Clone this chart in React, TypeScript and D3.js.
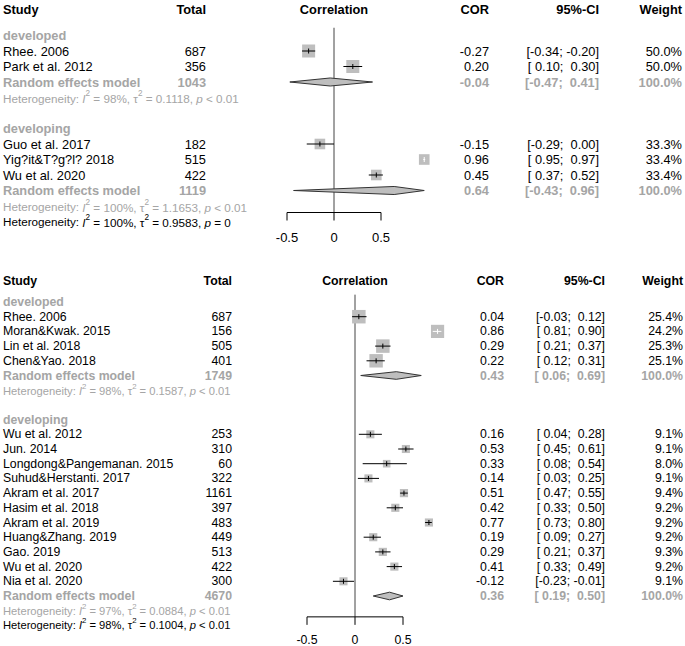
import React from 'react';
import * as d3 from 'd3';

const subgroups = ['developed', 'developing'];

// upper forest plot
const topStudies = ['Rhee. 2006', 'Park et al. 2012', 'Guo et al. 2017', 'Yig?it&T?g?l? 2018', 'Wu et al. 2020'];
const topGroups = ['developed', 'developed', 'developing', 'developing', 'developing'];
const topTotals = [687, 356, 182, 515, 422];
const topCor = [-0.27, 0.2, -0.15, 0.96, 0.45];
const topLower = [-0.34, 0.1, -0.29, 0.95, 0.37];
const topUpper = [-0.2, 0.3, 0.0, 0.97, 0.52];
const topWeights = [50.0, 50.0, 33.3, 33.4, 33.4];
const topPooledTotals = [1043, 1119];
const topPooledCor = [-0.04, 0.64];
const topPooledLower = [-0.47, -0.43];
const topPooledUpper = [0.41, 0.96];
const topPooledWeights = [100.0, 100.0];
const topHetI2 = ['98%', '100%'];
const topHetTau2 = ['0.1118', '1.1653'];
const topHetP = ['< 0.01', '< 0.01'];
const topOverallHet = ['100%', '0.9583', '= 0'];

// lower forest plot
const botStudies = [
  'Rhee. 2006', 'Moran&Kwak. 2015', 'Lin et al. 2018', 'Chen&Yao. 2018',
  'Wu et al. 2012', 'Jun. 2014', 'Longdong&Pangemanan. 2015', 'Suhud&Herstanti. 2017',
  'Akram et al. 2017', 'Hasim et al. 2018', 'Akram et al. 2019', 'Huang&Zhang. 2019',
  'Gao. 2019', 'Wu et al. 2020', 'Nia et al. 2020',
];
const botGroups = [
  'developed', 'developed', 'developed', 'developed',
  'developing', 'developing', 'developing', 'developing', 'developing', 'developing',
  'developing', 'developing', 'developing', 'developing', 'developing',
];
const botTotals = [687, 156, 505, 401, 253, 310, 60, 322, 1161, 397, 483, 449, 513, 422, 300];
const botCor = [0.04, 0.86, 0.29, 0.22, 0.16, 0.53, 0.33, 0.14, 0.51, 0.42, 0.77, 0.19, 0.29, 0.41, -0.12];
const botLower = [-0.03, 0.81, 0.21, 0.12, 0.04, 0.45, 0.08, 0.03, 0.47, 0.33, 0.73, 0.09, 0.21, 0.33, -0.23];
const botUpper = [0.12, 0.9, 0.37, 0.31, 0.28, 0.61, 0.54, 0.25, 0.55, 0.5, 0.8, 0.27, 0.37, 0.49, -0.01];
const botWeights = [25.4, 24.2, 25.3, 25.1, 9.1, 9.1, 8.0, 9.1, 9.4, 9.2, 9.2, 9.2, 9.3, 9.2, 9.1];
const botPooledTotals = [1749, 4670];
const botPooledCor = [0.43, 0.36];
const botPooledLower = [0.06, 0.19];
const botPooledUpper = [0.69, 0.5];
const botPooledWeights = [100.0, 100.0];
const botHetI2 = ['98%', '97%'];
const botHetTau2 = ['0.1587', '0.0884'];
const botHetP = ['< 0.01', '< 0.01'];
const botOverallHet = ['98%', '0.1004', '< 0.01'];

const axisTicks = [-0.5, 0, 0.5];

const FONT = "'Liberation Sans', Arial, Helvetica, sans-serif";
const GREY = '#a5a5a5';
const SQUARE = '#bebebe';

const topData = {
  studies: topStudies, groups: topGroups, totals: topTotals, cor: topCor, lower: topLower,
  upper: topUpper, weights: topWeights, pTotals: topPooledTotals, pCor: topPooledCor,
  pLower: topPooledLower, pUpper: topPooledUpper, pWeights: topPooledWeights,
  i2: topHetI2, tau2: topHetTau2, p: topHetP, overall: topOverallHet,
};
const botData = {
  studies: botStudies, groups: botGroups, totals: botTotals, cor: botCor, lower: botLower,
  upper: botUpper, weights: botWeights, pTotals: botPooledTotals, pCor: botPooledCor,
  pLower: botPooledLower, pUpper: botPooledUpper, pWeights: botPooledWeights,
  i2: botHetI2, tau2: botHetTau2, p: botHetP, overall: botOverallHet,
};

const topLayout = {
  y0: 35.5, step: 15.5, head: 1.65, xRange: [287, 381], fs: 12.8, hetFs: 11.7, sq: 13, axisFs: 13,
  cols: { study: 3, total: 206, cor: 489, ci: 599, weight: 682 },
};
const botLayout = {
  y0: 302, step: 14.7, head: 1.45, xRange: [307, 403], fs: 12.3, hetFs: 11.2, sq: 13.5, axisFs: 12.3,
  cols: { study: 3, total: 232, cor: 504, ci: 605, weight: 683 },
};

const f2 = (v: number) => (v < 0 ? '-' + Math.abs(v).toFixed(2) : ' ' + v.toFixed(2));
const ciText = (lo: number, hi: number) => `[${f2(lo)}; ${f2(hi)}]`;

const Het = ({ x, y, fs, color, i2, tau2, p }: any) => (
  <text x={x} y={y} fontSize={fs} fill={color} dominantBaseline="central">
    Heterogeneity: <tspan fontStyle="italic">I</tspan>
    <tspan baselineShift="super" fontSize={fs * 0.7}>2</tspan>
    <tspan>{` = ${i2}, \u03c4`}</tspan>
    <tspan baselineShift="super" fontSize={fs * 0.7}>2</tspan>
    <tspan>{` = ${tau2}, `}</tspan>
    <tspan fontStyle="italic">p</tspan>
    <tspan>{` ${p}`}</tspan>
  </text>
);

function Panel({ d, L }: any) {
  const x = d3.scaleLinear().domain([-0.5, 0.5]).range(L.xRange);
  const y = d3.scaleLinear().domain([0, 1]).range([L.y0, L.y0 + L.step]);
  const size = d3.scaleSqrt().domain([0, d3.max(d.weights) as number]).range([0, L.sq]);
  const c = L.cols;
  const els: any[] = [];
  let r = 0;

  subgroups.forEach((g, gi) => {
    els.push(
      <text key={'g' + gi} x={c.study} y={y(r)} fontSize={L.fs} fontWeight="bold" fill={GREY} dominantBaseline="central">{g}</text>
    );
    r++;
    d.studies.forEach((s: string, i: number) => {
      if (d.groups[i] !== g) return;
      const yy = y(r);
      const sz = size(d.weights[i]);
      const ciW = x(d.upper[i]) - x(d.lower[i]);
      // CI drawn white when it sits inside the square
      const lineCol = ciW < sz * 0.8 ? '#ffffff' : '#000000';
      els.push(
        <g key={'s' + i}>
          <text x={c.study} y={yy} fontSize={L.fs} dominantBaseline="central">{s}</text>
          <text x={c.total} y={yy} fontSize={L.fs} textAnchor="end" dominantBaseline="central">{d.totals[i]}</text>
          <rect x={x(d.cor[i]) - sz / 2} y={yy - sz / 2} width={sz} height={sz} fill={SQUARE} />
          <line x1={x(d.lower[i])} x2={x(d.upper[i])} y1={yy} y2={yy} stroke={lineCol} strokeWidth={1} />
          <line x1={x(d.cor[i])} x2={x(d.cor[i])} y1={yy - 2.5} y2={yy + 2.5} stroke={lineCol} strokeWidth={1} />
          <text x={c.cor} y={yy} fontSize={L.fs} textAnchor="end" dominantBaseline="central">{d.cor[i].toFixed(2)}</text>
          <text x={c.ci} y={yy} fontSize={L.fs} textAnchor="end" dominantBaseline="central" style={{ whiteSpace: 'pre' }}>{ciText(d.lower[i], d.upper[i])}</text>
          <text x={c.weight} y={yy} fontSize={L.fs} textAnchor="end" dominantBaseline="central">{d.weights[i].toFixed(1) + '%'}</text>
        </g>
      );
      r++;
    });
    const yp = y(r);
    const h = L.step * 0.26;
    const diamond = `M${x(d.pLower[gi])},${yp}L${x(d.pCor[gi])},${yp - h}L${x(d.pUpper[gi])},${yp}L${x(d.pCor[gi])},${yp + h}Z`;
    els.push(
      <g key={'p' + gi} fill={GREY} fontWeight="bold" fontSize={L.fs}>
        <text x={c.study} y={yp} dominantBaseline="central">Random effects model</text>
        <text x={c.total} y={yp} textAnchor="end" dominantBaseline="central">{d.pTotals[gi]}</text>
        <path d={diamond} fill={SQUARE} stroke="#333" strokeWidth={1} />
        <text x={c.cor} y={yp} textAnchor="end" dominantBaseline="central">{d.pCor[gi].toFixed(2)}</text>
        <text x={c.ci} y={yp} textAnchor="end" dominantBaseline="central" style={{ whiteSpace: 'pre' }}>{ciText(d.pLower[gi], d.pUpper[gi])}</text>
        <text x={c.weight} y={yp} textAnchor="end" dominantBaseline="central">{d.pWeights[gi].toFixed(1) + '%'}</text>
      </g>
    );
    r++;
    els.push(<Het key={'h' + gi} x={c.study} y={y(r) + 0.5} fs={L.hetFs} color={GREY} i2={d.i2[gi]} tau2={d.tau2[gi]} p={d.p[gi]} />);
    r++;
    if (gi < subgroups.length - 1) r++;
  });

  const lastHet = r - 1;
  els.push(<Het key="ho" x={c.study} y={y(r)} fs={L.hetFs} color="#000" i2={d.overall[0]} tau2={d.overall[1]} p={d.overall[2]} />);

  const axisY = y(lastHet) + L.step * 0.42;
  const labelY = axisY + L.step * 1.6;
  const headY = y(-L.head);

  return (
    <g fontFamily={FONT}>
      <g fontWeight="bold" fontSize={L.fs}>
        <text x={c.study} y={headY} dominantBaseline="central">Study</text>
        <text x={c.total} y={headY} textAnchor="end" dominantBaseline="central">Total</text>
        <text x={x(0)} y={headY} textAnchor="middle" dominantBaseline="central">Correlation</text>
        <text x={c.cor} y={headY} textAnchor="end" dominantBaseline="central">COR</text>
        <text x={c.ci} y={headY} textAnchor="end" dominantBaseline="central">95%-CI</text>
        <text x={c.weight} y={headY} textAnchor="end" dominantBaseline="central">Weight</text>
      </g>
      <line x1={x(0)} x2={x(0)} y1={y(-0.5)} y2={axisY} stroke="#444" strokeWidth={1} />
      {els}
      <g>
        <line x1={x(axisTicks[0])} x2={x(axisTicks[axisTicks.length - 1])} y1={axisY} y2={axisY} stroke="#000" />
        {axisTicks.map((t) => (
          <g key={t}>
            <line x1={x(t)} x2={x(t)} y1={axisY} y2={axisY + 8} stroke="#000" />
            <text x={x(t)} y={labelY} fontSize={L.axisFs} textAnchor="middle" dominantBaseline="central">{String(t)}</text>
          </g>
        ))}
      </g>
    </g>
  );
}

export default function App() {
  return (
    <svg width={685} height={646} style={{ position: 'absolute', left: 0, top: 0, background: '#fff' }}>
      <rect width={685} height={646} fill="#fff" />
      <Panel d={topData} L={topLayout} />
      <Panel d={botData} L={botLayout} />
    </svg>
  );
}
